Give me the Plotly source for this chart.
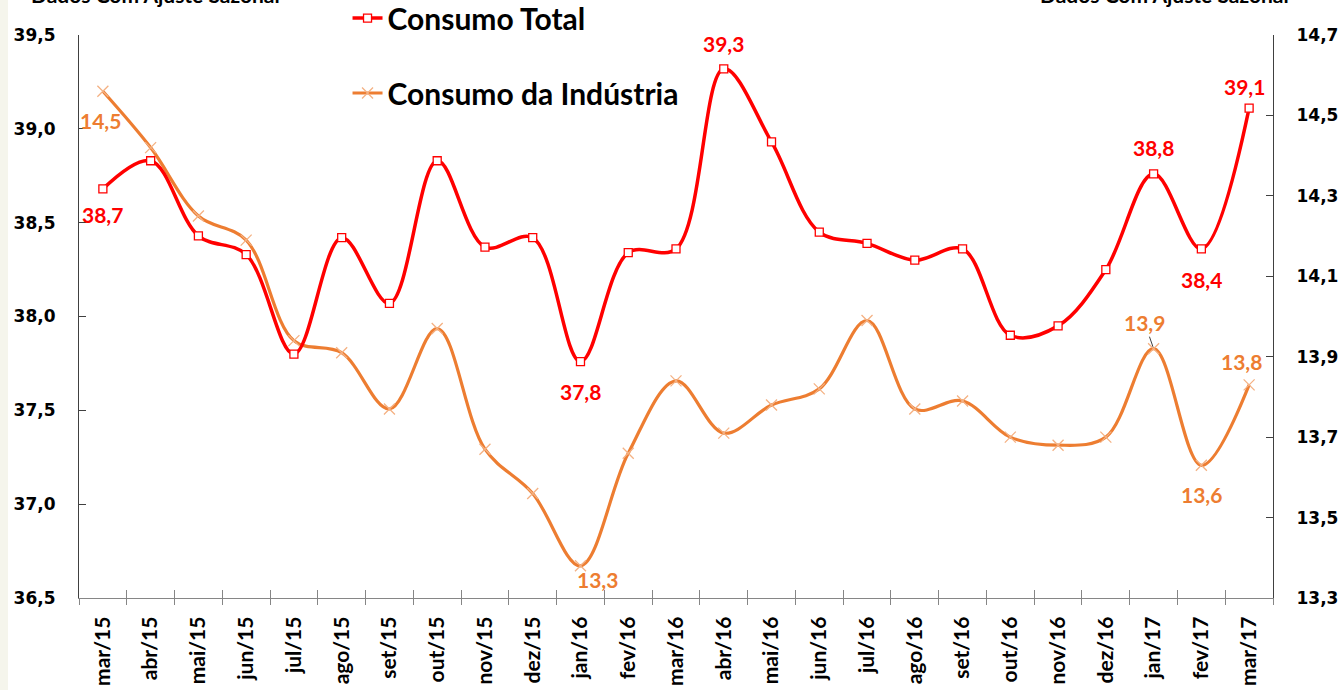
import plotly.graph_objects as go

categories = ["mar/15", "abr/15", "mai/15", "jun/15", "jul/15", "ago/15", "set/15", "out/15",
              "nov/15", "dez/15", "jan/16", "fev/16", "mar/16", "abr/16", "mai/16", "jun/16",
              "jul/16", "ago/16", "set/16", "out/16", "nov/16", "dez/16", "jan/17", "fev/17", "mar/17"]

consumo_total = [38.68, 38.83, 38.43, 38.33, 37.80, 38.42, 38.07, 38.83, 38.37, 38.42, 37.76, 38.34, 38.36,
                 39.32, 38.93, 38.45, 38.39, 38.30, 38.36, 37.90, 37.95, 38.25, 38.76, 38.36, 39.11]

consumo_industria = [14.52, 14.38, 14.21, 14.15, 13.90, 13.87, 13.73, 13.93, 13.63, 13.52, 13.34, 13.62, 13.80,
                     13.67, 13.74, 13.78, 13.95, 13.73, 13.75, 13.66, 13.64, 13.66, 13.88, 13.59, 13.79]

left_ticks = [36.5, 37.0, 37.5, 38.0, 38.5, 39.0, 39.5]
right_ticks = [13.26, 13.46, 13.66, 13.86, 14.06, 14.26, 14.46, 14.66]

total_label_idx = [0, 10, 13, 22, 23, 24]
industria_label_idx = [0, 10, 22, 23, 24]

RED = "#FF0000"
ORANGE = "#ED7D31"
LABEL_FONT = "Lato"
TICK_FONT = "DejaVu Sans"


def fmt(v):
    return f"{v:.1f}".replace(".", ",")


fig = go.Figure()

# Orange series on base axis (right side) so red draws on top
fig.add_trace(go.Scatter(
    x=categories, y=consumo_industria, name="Consumo da Indústria", yaxis="y",
    mode="lines+markers", line=dict(color=ORANGE, width=3.2, shape="spline", smoothing=1.0),
    marker=dict(symbol="x-thin", size=11, color="#F4B183", line=dict(color="#F4B183", width=1.3)),
    legend="legend2",
))

fig.add_trace(go.Scatter(
    x=categories, y=consumo_total, name="Consumo Total", yaxis="y2",
    mode="lines+markers", line=dict(color=RED, width=3.5, shape="spline", smoothing=1.0),
    marker=dict(symbol="square", size=8, color="white", line=dict(color=RED, width=1.3)),
    legend="legend",
))

annotations = []
total_offsets = [(0, 26), (0, 30), (0, -25), (0, -26), (0, 31), (-5, -22)]
for i, (dx, dy) in zip(total_label_idx, total_offsets):
    annotations.append(dict(
        x=categories[i], y=consumo_total[i], xref="x", yref="y2", text=fmt(consumo_total[i]),
        showarrow=False, xshift=dx, yshift=-dy,
        font=dict(family=LABEL_FONT, size=21, color=RED, weight="bold"),
    ))

ind_offsets = [(-2, 29), (17, 14), (-9, -26), (0, 29), (-8, -23)]
for i, (dx, dy) in zip(industria_label_idx, ind_offsets):
    a = dict(
        x=categories[i], y=consumo_industria[i], xref="x", yref="y", text=fmt(consumo_industria[i]),
        font=dict(family=LABEL_FONT, size=21, color=ORANGE, weight="bold"),
    )
    if i == 22:
        a.update(showarrow=True, ax=dx, ay=dy, arrowhead=0, arrowwidth=1, arrowcolor="#404040", standoff=2)
    else:
        a.update(showarrow=False, xshift=dx, yshift=-dy)
    annotations.append(a)

# cropped header texts
for xp in [0.0637, 0.9095]:
    annotations.append(dict(
        x=xp, y=1.046, xref="paper", yref="paper", yanchor="bottom", xanchor="center",
        text="Dados Com Ajuste Sazonal", showarrow=False,
        font=dict(family=LABEL_FONT, size=21, color="black", weight="bold"),
    ))

n = len(categories)
boundaries = [k - 0.5 for k in range(n + 1)]

fig.update_layout(
    width=1343, height=690,
    margin=dict(l=79, r=70, t=35, b=92, autoexpand=False),
    paper_bgcolor="white", plot_bgcolor="white",
    separators=",.",
    showlegend=True,
    xaxis=dict(
        type="category", range=[-0.5, n - 0.5],
        showline=True, linecolor="#868686", linewidth=1.3,
        ticks="outside", ticklen=6, tickcolor="#868686", tickson="boundaries",
        showgrid=False, tickangle=-90, ticklabelstandoff=9,
        tickfont=dict(family=LABEL_FONT, size=21, color="black", weight="bold"),
    ),
    xaxis2=dict(
        overlaying="x", anchor="y", range=[-0.5, n - 0.5], tickvals=boundaries,
        showticklabels=False, ticks="inside", ticklen=8, tickcolor="#868686",
        showgrid=False, zeroline=False, showline=False,
    ),
    yaxis=dict(
        side="right", range=[right_ticks[0], right_ticks[-1]],
        tickvals=right_ticks, ticktext=[fmt(v) for v in right_ticks],
        showline=True, linecolor="#404040", linewidth=1.2,
        ticks="inside", ticklen=7, tickcolor="#404040",
        showgrid=False, zeroline=False,
        tickfont=dict(family=TICK_FONT, size=17, color="black", weight="bold"),
        ticklabelstandoff=19,
    ),
    yaxis2=dict(
        side="left", overlaying="y", range=[left_ticks[0], left_ticks[-1]],
        tickvals=left_ticks, tickformat=".1f",
        showline=True, linecolor="#404040", linewidth=1.2,
        ticks="inside", ticklen=7, tickcolor="#404040",
        showgrid=False, zeroline=False,
        tickfont=dict(family=TICK_FONT, size=17, color="black", weight="bold"),
        ticklabelstandoff=19,
    ),
    legend=dict(x=0.2249, y=1.030, xanchor="left", yanchor="middle", bgcolor="rgba(0,0,0,0)",
                font=dict(family=LABEL_FONT, size=30, color="black", weight="bold")),
    legend2=dict(x=0.2249, y=0.897, xanchor="left", yanchor="middle", bgcolor="rgba(0,0,0,0)",
                 font=dict(family=LABEL_FONT, size=30, color="black", weight="bold")),
    annotations=annotations,
    shapes=[dict(type="rect", xref="paper", yref="paper", x0=-79 / 1194, x1=-71 / 1194,
                 y0=-92 / 563, y1=1 + 35 / 563, fillcolor="#F5F5EC", line=dict(width=0), layer="below")],
)

# invisible helper trace to activate the overlaying x axis used for crossing tick marks
fig.add_trace(go.Scatter(x=[boundaries[0]], y=[right_ticks[0]], xaxis="x2", yaxis="y",
                         mode="markers", marker=dict(opacity=0), showlegend=False, hoverinfo="skip"))

fig.write_html("out.html", config={"displayModeBar": False},
               post_script="document.body.style.margin='0';document.body.style.overflow='hidden';")
